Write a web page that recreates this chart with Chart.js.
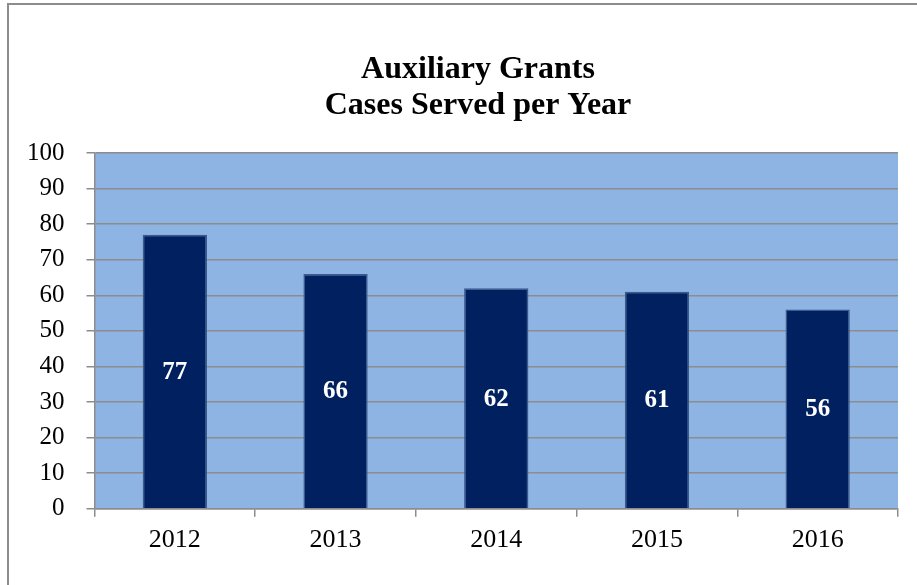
<!DOCTYPE html>
<html>
<head>
<meta charset="utf-8">
<script src="https://cdn.jsdelivr.net/npm/chart.js@4/dist/chart.umd.min.js"></script>
<style>
  html, body { margin: 0; padding: 0; background: #fff; overflow: hidden; }
  #wrap { position: relative; width: 917px; height: 585px; overflow: hidden; }
  #frame { position: absolute; left: 7px; top: 3px; width: 930px; height: 600px;
           border-left: 2px solid #8c8c8c; border-top: 2px solid #8c8c8c; }
  canvas { position: absolute; left: 0; top: 0; }
</style>
</head>
<body>
<div id="wrap">
  <div id="frame"></div>
  <canvas id="myChart" width="960" height="585"></canvas>
</div>
<script>
// chart data
var years = ["2012", "2013", "2014", "2015", "2016"];
var cases = [77, 66, 62, 61, 56];
var titleLines = ["Auxiliary Grants", "Cases Served per Year"];

var serif = "'Liberation Serif', 'Times New Roman', serif";

// light blue plot background
var plotBg = {
  id: 'plotBg',
  beforeDraw: function(chart) {
    var a = chart.chartArea, c = chart.ctx;
    c.save();
    c.fillStyle = '#8eb4e3';
    c.fillRect(a.left, a.top, a.right - a.left, a.bottom - a.top);
    c.restore();
  }
};

// white value labels in the middle of each bar
var barLabels = {
  id: 'barLabels',
  afterDatasetsDraw: function(chart) {
    var c = chart.ctx;
    var meta = chart.getDatasetMeta(0);
    c.save();
    c.fillStyle = '#ffffff';
    c.font = 'bold 25px ' + serif;
    c.textAlign = 'center';
    c.textBaseline = 'middle';
    meta.data.forEach(function(bar, i) {
      var p = bar.getProps(['x', 'y', 'base'], true);
      c.fillText(String(cases[i]), p.x, (p.y + p.base) / 2 + 1);
    });
    c.restore();
  }
};

var ctx = document.getElementById("myChart");
var myChart = new Chart(ctx, {
  type: 'bar',
  data: {
    labels: years,
    datasets: [{
      data: cases,
      backgroundColor: '#002060',
      borderColor: '#3a5a8c',
      borderWidth: 1.5,
      barPercentage: 0.4,
      categoryPercentage: 1
    }]
  },
  options: {
    responsive: false,
    animation: false,
    layout: { padding: { left: 5, right: 9, top: 20, bottom: 21 } },
    plugins: {
      legend: { display: false },
      tooltip: { enabled: false },
      title: {
        display: true,
        text: titleLines,
        color: '#000',
        font: { family: serif, size: 32, weight: 'bold', lineHeight: 1.125 },
        padding: { top: 32, bottom: 29 }
      }
    },
    scales: {
      x: {
        grid: { drawOnChartArea: false, color: '#8c8c8c', tickLength: 8, lineWidth: 1.5 },
        border: { color: '#8c8c8c', width: 1.5 },
        ticks: { color: '#000', font: { family: serif, size: 26 }, padding: 8 }
      },
      y: {
        min: 0,
        max: 100,
        grid: { color: '#8c8c8c', tickLength: 8, lineWidth: 1.5 },
        border: { color: '#8c8c8c', width: 1.5 },
        ticks: { stepSize: 10, color: '#000', font: { family: serif, size: 25 }, padding: 22 }
      },
      // empty spacer on the right so the title sits where the original has it
      yRight: {
        position: 'right',
        display: true,
        afterFit: function(axis) { axis.width = 53; },
        grid: { display: false },
        border: { display: false },
        ticks: { display: false }
      }
    }
  },
  plugins: [plotBg, barLabels]
});
</script>
</body>
</html>
